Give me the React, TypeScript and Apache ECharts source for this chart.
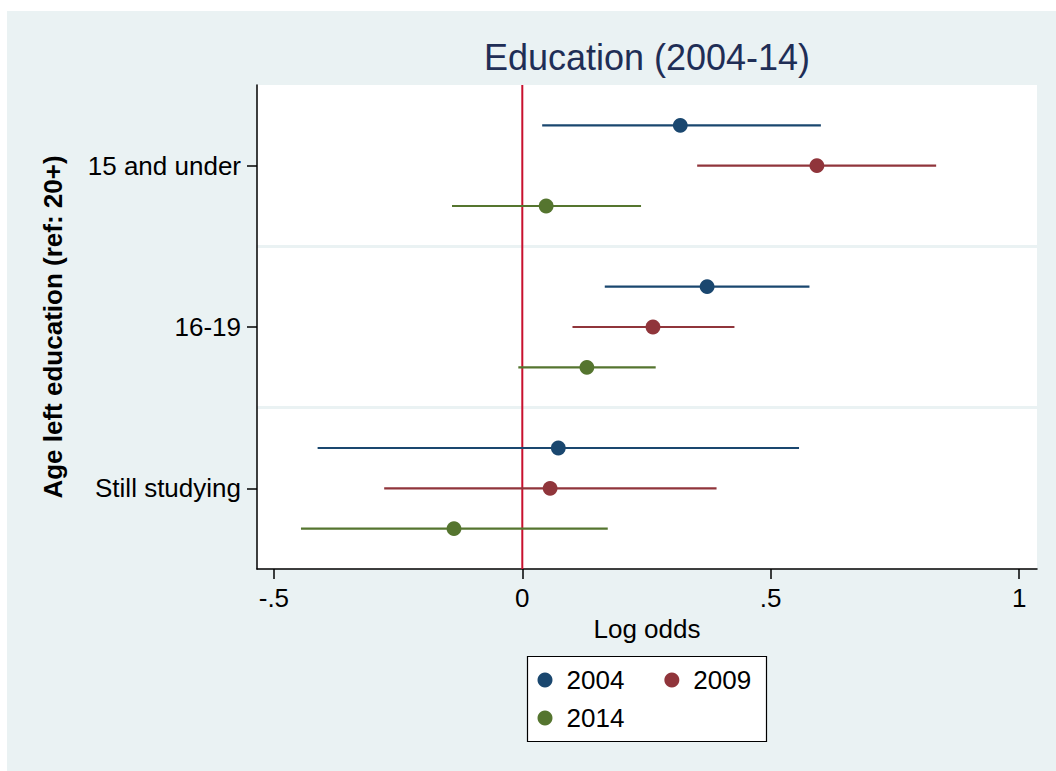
import React, { useEffect, useRef } from "react";
import * as echarts from "echarts";

// Categories (y axis) and tick values (x axis)
const categories = ["15 and under", "16-19", "Still studying"];
const xTicks = [-0.5, 0, 0.5, 1];
const xTickLabels = ["-.5", "0", ".5", "1"];

// Point estimates and 95% CI bounds per survey year
const years = ["2004", "2009", "2014"];
const est2004 = [0.318, 0.372, 0.0725];
const lo2004 = [0.04, 0.166, -0.412];
const hi2004 = [0.601, 0.578, 0.557];
const est2009 = [0.593, 0.263, 0.056];
const lo2009 = [0.352, 0.101, -0.278];
const hi2009 = [0.833, 0.427, 0.391];
const est2014 = [0.048, 0.13, -0.1375];
const lo2014 = [-0.1415, -0.008, -0.4455];
const hi2014 = [0.239, 0.2685, 0.172];

// Reference line at zero log odds
const refLine = [0];

const yearColors = ["#1A476F", "#90353B", "#55752F"];
const rowOffsets = [-0.25, 0, 0.25]; // share of the category band
const FONT = "'Liberation Sans', Arial, Helvetica, sans-serif";

// [estimate, category index, lower, upper]
function rows(est: number[], lo: number[], hi: number[]) {
  return categories.map((_, i) => [est[i], i, lo[i], hi[i]]);
}

export default function App() {
  const ref = useRef<HTMLDivElement>(null);

  useEffect(() => {
    if (!ref.current) return;
    const chart = echarts.init(ref.current, undefined, { renderer: "svg" });

    const seriesData = [
      rows(est2004, lo2004, hi2004),
      rows(est2009, lo2009, hi2009),
      rows(est2014, lo2014, hi2014),
    ];

    const makeRenderItem = (k: number) => (params: any, api: any) => {
      const cat = api.value(1);
      const band = api.size([0, 1])[1];
      const dy = rowOffsets[k] * band;
      const c = api.coord([api.value(0), cat]);
      const a = api.coord([api.value(2), cat]);
      const b = api.coord([api.value(3), cat]);
      return {
        type: "group",
        children: [
          {
            type: "line",
            shape: { x1: a[0], y1: c[1] + dy, x2: b[0], y2: c[1] + dy },
            style: { stroke: yearColors[k], lineWidth: 2.2 },
          },
          {
            type: "circle",
            shape: { cx: c[0], cy: c[1] + dy, r: 7.4 },
            style: { fill: yearColors[k] },
          },
        ],
      };
    };

    const series: any[] = [
      {
        name: "zero",
        type: "custom",
        silent: true,
        z: 2,
        data: refLine.map((v) => [v, 0]),
        renderItem: (params: any, api: any) => {
          const cs = params.coordSys;
          const p = api.coord([api.value(0), 0]);
          return {
            type: "line",
            shape: { x1: p[0], y1: cs.y, x2: p[0], y2: cs.y + cs.height },
            style: { stroke: "#C8102E", lineWidth: 2 },
          };
        },
      },
      ...years.map((y, k) => ({
        name: y,
        type: "custom",
        color: yearColors[k],
        itemStyle: { color: yearColors[k] },
        renderItem: makeRenderItem(k),
        data: seriesData[k],
        z: 3,
      })),
    ];

    const legendCommon = {
      orient: "horizontal",
      padding: 0,
      icon: "circle",
      itemWidth: 15,
      itemHeight: 15,
      itemGap: 40,
      selectedMode: false,
      textStyle: {
        fontFamily: FONT,
        fontSize: 26,
        color: "#000",
        padding: [0, 0, 0, 9],
      },
    };

    chart.setOption({
      animation: false,
      textStyle: { fontFamily: FONT },
      grid: {
        left: 257,
        top: 85,
        right: 19,
        bottom: 202,
        show: true,
        backgroundColor: "#ffffff",
        borderWidth: 0,
        containLabel: false,
      },
      xAxis: {
        type: "value",
        min: -0.534,
        max: 1.036,
        name: "Log odds",
        nameLocation: "middle",
        nameGap: 43,
        nameTextStyle: { fontFamily: FONT, fontSize: 26, color: "#000" },
        axisLine: { show: true, onZero: false, lineStyle: { color: "#000", width: 1.5 } },
        axisTick: {
          show: true,
          length: 10,
          customValues: xTicks,
          lineStyle: { color: "#000", width: 1.5 },
        },
        axisLabel: {
          customValues: xTicks,
          margin: 16,
          fontFamily: FONT,
          fontSize: 26,
          color: "#000",
          formatter: (v: number) => {
            const i = xTicks.indexOf(v);
            return i >= 0 ? xTickLabels[i] : String(v);
          },
        },
        splitLine: { show: false },
      },
      yAxis: {
        type: "category",
        data: categories,
        inverse: true,
        boundaryGap: true,
        name: "Age left education (ref: 20+)",
        nameLocation: "middle",
        nameRotate: 90,
        nameGap: 191,
        nameTextStyle: {
          fontFamily: FONT,
          fontSize: 26,
          fontWeight: "bold",
          color: "#000",
        },
        axisLine: { show: true, onZero: false, lineStyle: { color: "#000", width: 1.5 } },
        axisTick: {
          show: true,
          alignWithLabel: true,
          length: 10,
          lineStyle: { color: "#000", width: 1.5 },
        },
        axisLabel: {
          margin: 16,
          fontFamily: FONT,
          fontSize: 26,
          color: "#000",
        },
        splitLine: {
          show: true,
          showMinLine: false,
          showMaxLine: false,
          lineStyle: { color: "#EAF2F3", width: 3 },
        },
      },
      legend: [
        { ...legendCommon, data: ["2004", "2009"], left: 537.5, top: 667, z: 5 },
        { ...legendCommon, data: ["2014"], left: 537.5, top: 705, z: 5 },
      ],
      graphic: [
        {
          type: "text",
          x: 647,
          y: 57,
          style: {
            text: "Education (2004-14)",
            fontFamily: FONT,
            fontSize: 36,
            fill: "#1F2E56",
            textAlign: "center",
            textVerticalAlign: "middle",
          },
        },
        {
          type: "rect",
          z: 1,
          shape: { x: 527.5, y: 656.5, width: 239, height: 85 },
          style: { fill: "#ffffff", stroke: "#000", lineWidth: 1.2 },
        },
      ],
      series,
    });

    return () => chart.dispose();
  }, []);

  return (
    <div
      style={{
        position: "fixed",
        left: 0,
        top: 0,
        width: 1056,
        height: 771,
        background: "#ffffff",
      }}
    >
      <div
        style={{
          position: "absolute",
          left: 7,
          top: 11,
          right: 0,
          bottom: 0,
          background: "#EAF2F3",
        }}
      />
      <div
        ref={ref}
        style={{ position: "absolute", left: 0, top: 0, width: 1056, height: 771 }}
      />
    </div>
  );
}
